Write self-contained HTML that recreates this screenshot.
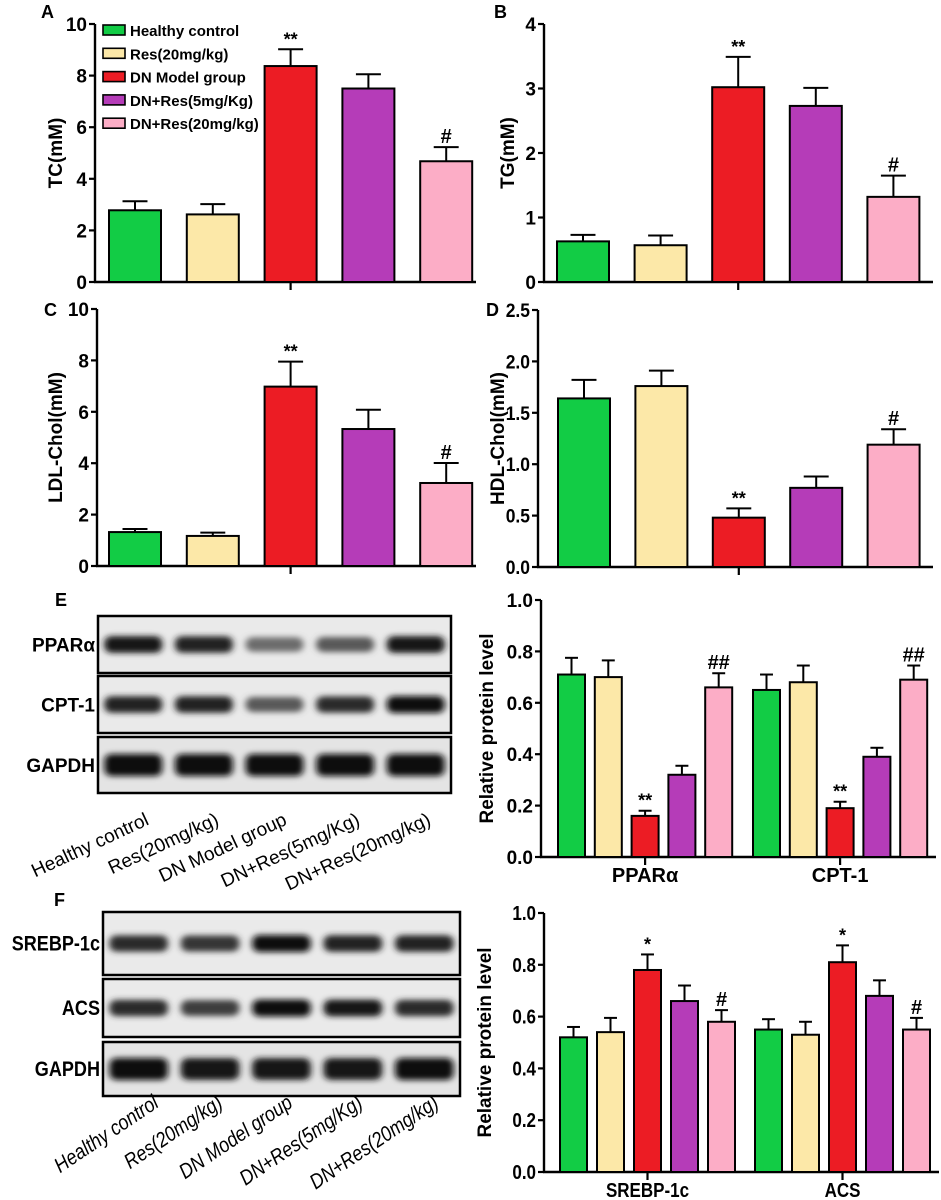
<!DOCTYPE html>
<html><head><meta charset="utf-8">
<style>
html,body{margin:0;padding:0;background:#fff;}
svg{display:block;font-family:"Liberation Sans",Arial,sans-serif;}
.b{font-weight:bold;}
</style></head>
<body>
<svg id="fig" width="941" height="1200" viewBox="0 0 941 1200" xmlns="http://www.w3.org/2000/svg">
<defs>
<filter id="blur" x="-20%" y="-100%" width="140%" height="300%"><feGaussianBlur stdDeviation="3.5 2.8"/></filter>
</defs>
<g id="root"></g>
</svg>
<script>
// ---------- data ----------
const groups = ["Healthy control","Res(20mg/kg)","DN Model group","DN+Res(5mg/Kg)","DN+Res(20mg/kg)"];
const colors = ["#12cc45","#fce8a8","#ec1c24","#b53cb8","#fcadc6"];
const tcVals = [2.78,2.62,8.37,7.5,4.68];
const tcErr = [0.35,0.4,0.65,0.55,0.55];
const tcMarks = ["","","**","","#"];
const tgVals = [0.63,0.57,3.02,2.73,1.32];
const tgErr = [0.1,0.15,0.47,0.28,0.33];
const tgMarks = ["","","**","","#"];
const ldlVals = [1.32,1.17,6.98,5.33,3.23];
const ldlErr = [0.12,0.13,0.97,0.75,0.78];
const ldlMarks = ["","","**","","#"];
const hdlVals = [1.64,1.76,0.48,0.77,1.19];
const hdlErr = [0.18,0.15,0.09,0.11,0.15];
const hdlMarks = ["","","**","","#"];
const eCats = ["PPARα","CPT-1"];
const eVals = [[0.71,0.70,0.16,0.32,0.66],[0.65,0.68,0.19,0.39,0.69]];
const eErr = [[0.065,0.065,0.02,0.035,0.055],[0.06,0.065,0.025,0.035,0.055]];
const eMarks = [["","","**","","##"],["","","**","","##"]];
const fCats = ["SREBP-1c","ACS"];
const fVals = [[0.52,0.54,0.78,0.66,0.58],[0.55,0.53,0.81,0.68,0.55]];
const fErr = [[0.04,0.055,0.06,0.06,0.045],[0.04,0.05,0.065,0.06,0.045]];
const fMarks = [["","","*","","#"],["","","*","","#"]];
const ticks10 = [0,2,4,6,8,10];
const ticks4 = [0,1,2,3,4];
const ticks25 = ["0.0","0.5","1.0","1.5","2.0","2.5"];
const ticks1 = ["0.0","0.2","0.4","0.6","0.8","1.0"];
// blot band intensities (0..1)
const eBands = [[0.95,0.9,0.5,0.6,0.95],[0.9,0.9,0.6,0.85,1],[1,1,1,1,1]];
const fBands = [[0.85,0.8,1,0.9,0.9],[0.85,0.75,1,0.95,0.85],[1,0.95,0.95,0.95,1]];

const NS="http://www.w3.org/2000/svg";
const root=document.getElementById('root');
function mk(tag,attrs,parent){const e=document.createElementNS(NS,tag);for(const k in attrs)e.setAttribute(k,attrs[k]);(parent||root).appendChild(e);return e;}
function txt(s,attrs,parent){const e=mk('text',attrs,parent);e.textContent=s;return e;}

function axes(g,cfg,tickLabels,title,titleX){
  const {ax,y0,yTop,xEnd,max}=cfg;
  const ys=v=>y0-(v/max)*(y0-yTop);
  mk('line',{x1:ax,y1:yTop,x2:ax,y2:y0,stroke:'#000','stroke-width':2.4},g);
  mk('line',{x1:ax-1,y1:y0,x2:xEnd,y2:y0,stroke:'#000','stroke-width':2.4},g);
  tickLabels.forEach(t=>{const v=parseFloat(t);const y=ys(v);
    mk('line',{x1:ax-6,y1:y,x2:ax,y2:y,stroke:'#000','stroke-width':2.2},g);
    const tl=txt(String(t),{x:0,y:0,'text-anchor':'end','font-size':cfg.fs||19,'class':'b',transform:`translate(${ax-8},${y+7}) scale(${cfg.sx||1},1)`},g);
    
    
  });
  const tt=txt(title,{x:0,y:0,'text-anchor':'middle','font-size':cfg.tfs||19,'class':'b',transform:`translate(${titleX},${(y0+yTop)/2}) rotate(-90)`},g);
  
  
  return ys;
}
function bar(g,x,w,v,e,ys,col,mark,y0){
  const r=mk('rect',{x:x,y:ys(v),width:w,height:y0-ys(v),fill:col,stroke:'#000','stroke-width':2},g);
  
  
  const cx=x+w/2, yt=ys(v+e);
  mk('line',{x1:cx,y1:ys(v),x2:cx,y2:yt,stroke:'#000','stroke-width':2},g);
  mk('line',{x1:cx-w*0.24,y1:yt,x2:cx+w*0.24,y2:yt,stroke:'#000','stroke-width':2},g);
  if(mark&&mark.trim()){const m=txt(mark,{x:cx,y:yt-4,'text-anchor':'middle','font-size':mark.indexOf('#')>=0?20:18,'class':'b'},g);
    
    }
}
function simple(name,letter,lx,ly,cfg,vals,errs,marks,ticks,title,titleX){
  const g=mk('g',{});
  
  
  const ys=axes(g,cfg,ticks,title,titleX);
  vals.forEach((v,i)=>bar(g,cfg.bx+i*cfg.sp,cfg.bw,v,errs[i],ys,colors[i],marks[i],cfg.y0));
  const tc=cfg.bx+2*cfg.sp+cfg.bw/2;
  mk('line',{x1:tc,y1:cfg.y0,x2:tc,y2:cfg.y0+8,stroke:'#000','stroke-width':2.2},g);
  const L=txt(letter,{x:lx,y:ly,'font-size':18,'class':'b'},g);
  
  
  return g;
}
simple('panel-a-tc-chart','A',41,18,{ax:95,y0:282,yTop:24,xEnd:476,max:10,bx:109,sp:77.8,bw:52},tcVals,tcErr,tcMarks,ticks10,'TC(mM)',62);
simple('panel-b-tg-chart','B',494,18,{ax:544,y0:282,yTop:24,xEnd:933,max:4,bx:557,sp:77.6,bw:52},tgVals,tgErr,tgMarks,ticks4,'TG(mM)',514);
simple('panel-c-ldl-chart','C',44,316,{ax:97,y0:566,yTop:309,xEnd:476,max:10,bx:109,sp:77.8,bw:52},ldlVals,ldlErr,ldlMarks,ticks10,'LDL-Chol(mM)',62);
simple('panel-d-hdl-chart','D',486,316,{ax:538,y0:567,yTop:310,xEnd:933,max:2.5,bx:558,sp:77.4,bw:52,sx:0.92},hdlVals,hdlErr,hdlMarks,ticks25,'HDL-Chol(mM)',504);

// legend
(function(){
  const g=mk('g',{});
  
  
  groups.forEach((s,i)=>{const y=25+i*23.3;
    const r=mk('rect',{x:103,y:y,width:22,height:10,fill:colors[i],stroke:'#000','stroke-width':1.6},g);
    
    
    const t=txt(s,{x:130,y:y+11,'font-size':15,'class':'b'},g);
    
    
  });
})();

function grouped(name,cfg,cats,vals,errs,marks,title,titleX){
  const g=mk('g',{});
  
  
  const ys=axes(g,cfg,ticks1,title,titleX);
  cats.forEach((c,ci)=>{
    vals[ci].forEach((v,i)=>bar(g,cfg.bx+ci*cfg.go+i*cfg.sp,cfg.bw,v,errs[ci][i],ys,colors[i],marks[ci][i],cfg.y0));
    const tc=cfg.bx+ci*cfg.go+2*cfg.sp+cfg.bw/2;
    mk('line',{x1:tc,y1:cfg.y0,x2:tc,y2:cfg.y0+8,stroke:'#000','stroke-width':2.2},g);
    const t=txt(c,{x:0,y:0,'text-anchor':'middle','font-size':20,'class':'b',transform:`translate(${tc},${cfg.y0+25}) scale(${cfg.sx||1},1)`},g);
    
    
  });
}
grouped('panel-e-protein-chart',{ax:541,y0:857,yTop:600,xEnd:936,max:1,bx:558,sp:36.8,bw:27,go:195},eCats,eVals,eErr,eMarks,'Relative protein level',493);
grouped('panel-f-protein-chart',{ax:544,y0:1172,yTop:913,xEnd:939,max:1,bx:560,sp:37,bw:27,go:195,fs:20,sx:0.85},fCats,fVals,fErr,fMarks,'Relative protein level',491);

function blot(name,letter,lp,box,rows,labels,bands,lsx,xl){
  const g=mk('g',{});
  
  
  const L=txt(letter,{x:lp[0],y:lp[1],'font-size':18,'class':'b'},g);
  
  
  const lw=(box.x2-box.x1)/5;
  rows.forEach((r,ri)=>{
    mk('rect',{x:box.x1,y:r[0],width:box.x2-box.x1,height:r[1]-r[0],fill:ri==2?'#e4e4e4':'#eaeaea',stroke:'#000','stroke-width':2.5},g);
    const cy=(r[0]+r[1])/2;
    bands[ri].forEach((k,i)=>{
      const cx=box.x1+lw*(i+0.5);
      const gr=Math.round(200-185*k);
      const h=(ri==2?22:17)*(0.7+0.3*k);
      const e=mk('rect',{x:cx-lw*0.41,y:cy-h/2,width:lw*0.82,height:h,rx:7,fill:`rgb(${gr},${gr},${gr})`,filter:'url(#blur)'},g);
      
      
    });
    const t=txt(labels[ri],{x:0,y:0,'text-anchor':'end','font-size':xl.lfs||19,'class':'b',transform:`translate(${box.x1-3},${cy+7}) scale(${lsx},1)`},g);
    
    
  });
  groups.forEach((s,i)=>{
    const t=txt(s,{x:0,y:0,'text-anchor':'end','font-size':xl.fs,'font-style':xl.style,transform:`translate(${xl.ends[i]},${xl.y}) rotate(${xl.rot}) scale(${xl.sx},1)`},g);
    
    
  });
}
blot('panel-e-western-blot','E',[55,606],{x1:98,x2:451},[[616,673],[676,733],[737,793]],["PPARα","CPT-1","GAPDH"],eBands,1,{fs:19,style:'normal',rot:-25,y:824,ends:[150,220,288,361,432],sx:1});
blot('panel-f-western-blot','F',[54,906],{x1:103,x2:460},[[912,975],[979,1037],[1042,1096]],["SREBP-1c","ACS","GAPDH"],fBands,0.86,{fs:21,lfs:21,style:'italic',rot:-34,y:1106,ends:[160,224,294,364,440],sx:0.86});
</script>
</body></html>
